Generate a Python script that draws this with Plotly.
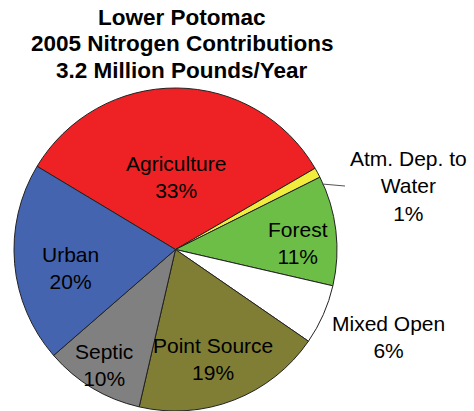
import plotly.graph_objects as go

W, H = 474, 411

title_lines = ["Lower Potomac", "2005 Nitrogen Contributions", "3.2 Million Pounds/Year"]
categories = ["Agriculture", "Atm. Dep. to Water", "Forest", "Mixed Open",
              "Point Source", "Septic", "Urban"]
label_lines = [["Agriculture"], ["Atm. Dep. to", "Water"], ["Forest"], ["Mixed Open"],
               ["Point Source"], ["Septic"], ["Urban"]]
values = [33, 1, 11, 6, 19, 10, 20]
colors = ["#EE2224", "#F2EC3C", "#6CBE46", "#FFFFFF", "#7F7E34", "#808080", "#4564AF"]

# label block centres (pixels from top-left) -- layout only
label_pos = [(176, 177), (408, 186), (298, 243), (388, 337),
             (213, 359), (104, 365), (70, 268)]


def px(x):
    return x / W


def py(y):
    return 1 - y / H


fig = go.Figure(go.Pie(
    labels=categories,
    values=values,
    sort=False,
    direction="clockwise",
    rotation=-59,
    textinfo="none",
    marker=dict(colors=colors, line=dict(color="#222222", width=1)),
    domain=dict(x=[px(13), px(338)], y=[0.0, py(88)]),
    showlegend=False,
    hoverinfo="label+percent",
))

label_font = dict(family="Liberation Sans, Arial, sans-serif", size=21, color="black")

for lines, v, (lx, ly) in zip(label_lines, values, label_pos):
    fig.add_annotation(x=px(lx), y=py(ly), xref="paper", yref="paper",
                       text="<br>".join(lines + [f"{v}%"]), showarrow=False,
                       font=label_font, align="center", xanchor="center", yanchor="middle")

fig.add_shape(type="line", xref="paper", yref="paper",
              x0=px(322), y0=py(184), x1=px(345), y1=py(186),
              line=dict(color="#555555", width=1))

title_font = dict(family="Liberation Sans, Arial, sans-serif", size=22.5, color="black",
                  weight="bold")
for i, line in enumerate(title_lines):
    fig.add_annotation(x=px(182), y=py(18 + 26 * i), xref="paper", yref="paper",
                       text=line, showarrow=False, font=title_font,
                       xanchor="center", yanchor="middle")

fig.update_layout(
    width=W, height=H,
    margin=dict(l=0, r=0, t=0, b=0),
    paper_bgcolor="white",
    plot_bgcolor="white",
)

fig.write_html("out.html")
